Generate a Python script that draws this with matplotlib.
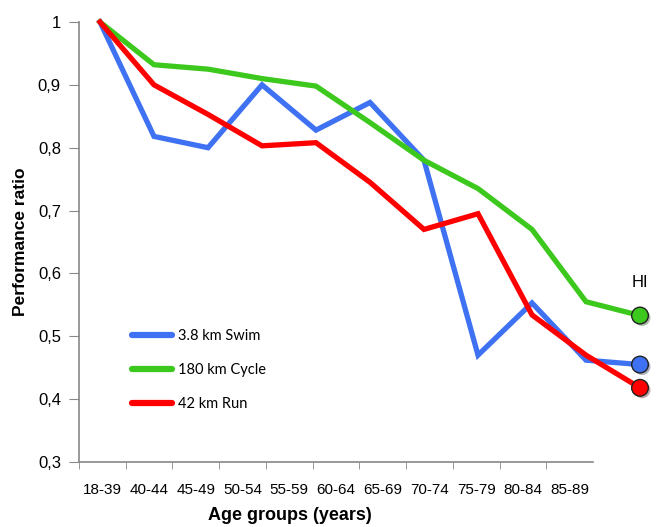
import numpy as np
import matplotlib
matplotlib.use('Agg')
from matplotlib import pyplot as plt
from matplotlib import patheffects as pe

age_groups = ['18-39', '40-44', '45-49', '50-54', '55-59', '60-64',
              '65-69', '70-74', '75-79', '80-84', '85-89']
swim = [1.0, 0.818, 0.800, 0.900, 0.828, 0.872, 0.780, 0.470, 0.553, 0.462, 0.455]
cycle = [1.0, 0.932, 0.925, 0.910, 0.898, 0.840, 0.780, 0.735, 0.670, 0.555, 0.533]
run = [1.0, 0.900, 0.853, 0.803, 0.808, 0.745, 0.670, 0.695, 0.534, 0.470, 0.418]
yticks = [0.3, 0.4, 0.5, 0.6, 0.7, 0.8, 0.9, 1.0]

blue = '#3f72f2'
green = '#3cc81c'
red = '#ff0000'
narrow = ['Liberation Sans Narrow', 'Liberation Sans', 'DejaVu Sans']

W, H = 664, 527
fig = plt.figure(figsize=(W / 100, H / 100), dpi=100)
rect = [79 / W, 65 / H, 514 / W, 440 / H]

# category axis (Excel style, labels between tick marks)
ax = fig.add_axes(rect)
n = len(age_groups)
ax.set_xlim(-0.5, n - 0.5)
ax.set_ylim(0.3, 1.0)
ax.set_xticks(np.arange(n))
ax.set_xticklabels(age_groups, family=narrow, fontsize=11)
ax.set_xticks(np.arange(n) - 0.5, minor=True)
ax.tick_params(axis='x', which='major', length=0, pad=15)
ax.tick_params(axis='x', which='minor', length=5, color='#888888', direction='out')
ax.set_yticks(yticks)
ax.set_yticklabels([('%g' % v).replace('.', ',') for v in yticks], family=narrow, fontsize=12)
ax.tick_params(axis='y', length=7, color='#888888', pad=6)
for s in ['top', 'right']:
    ax.spines[s].set_visible(False)
for s in ['left', 'bottom']:
    ax.spines[s].set_color('#888888')
    ax.spines[s].set_linewidth(1.2)

# overlay for the data lines (drawn on its own scale)
ax2 = fig.add_axes(rect)
ax2.set_axis_off()
x0 = -21 / 54
ax2.set_xlim(x0, x0 + 514 / 54)
ax2.set_ylim(0.3, 1.0)
xs = np.arange(n)
shadow = [pe.SimplePatchShadow(offset=(1.5, -1.5), alpha=0.35), pe.Normal()]
for vals, col, lab in [(swim, blue, '3.8 km Swim'), (cycle, green, '180 km Cycle'),
                       (run, red, '42 km Run')]:
    ax2.plot(xs, vals, color=col, lw=3.8, solid_joinstyle='miter', clip_on=False, label=lab)
for vals, col in [(cycle, green), (swim, blue), (run, red)]:
    ax2.plot(xs[-1], vals[-1], 'o', ms=12, mfc=col, mec='#222222', mew=1.0,
             clip_on=False, path_effects=shadow, zorder=5)
ax2.text(xs[-1], cycle[-1] + 0.04, 'HI', ha='center', va='bottom',
         family=['Liberation Sans'], fontsize=12)

leg = ax2.legend(loc='upper left', bbox_to_anchor=(46 / 514, 140 / 440),
                 frameon=False, handlelength=2.7, handletextpad=0.4, borderpad=0,
                 labelspacing=1.35, prop={'family': ['Lato', 'DejaVu Sans'], 'size': 10.5})
for line in leg.get_lines():
    line.set_linewidth(4.5)
    line.set_solid_capstyle('round')

fig.text(21 / W, 1 - 242 / H, 'Performance ratio', rotation=90, ha='center', va='center',
         family=narrow, fontsize=12.5, fontweight='bold')
fig.text(290 / W, 1 - 515 / H, 'Age groups (years)', ha='center', va='center',
         family=narrow, fontsize=13, fontweight='bold')

fig.savefig('out.png', dpi=100)
